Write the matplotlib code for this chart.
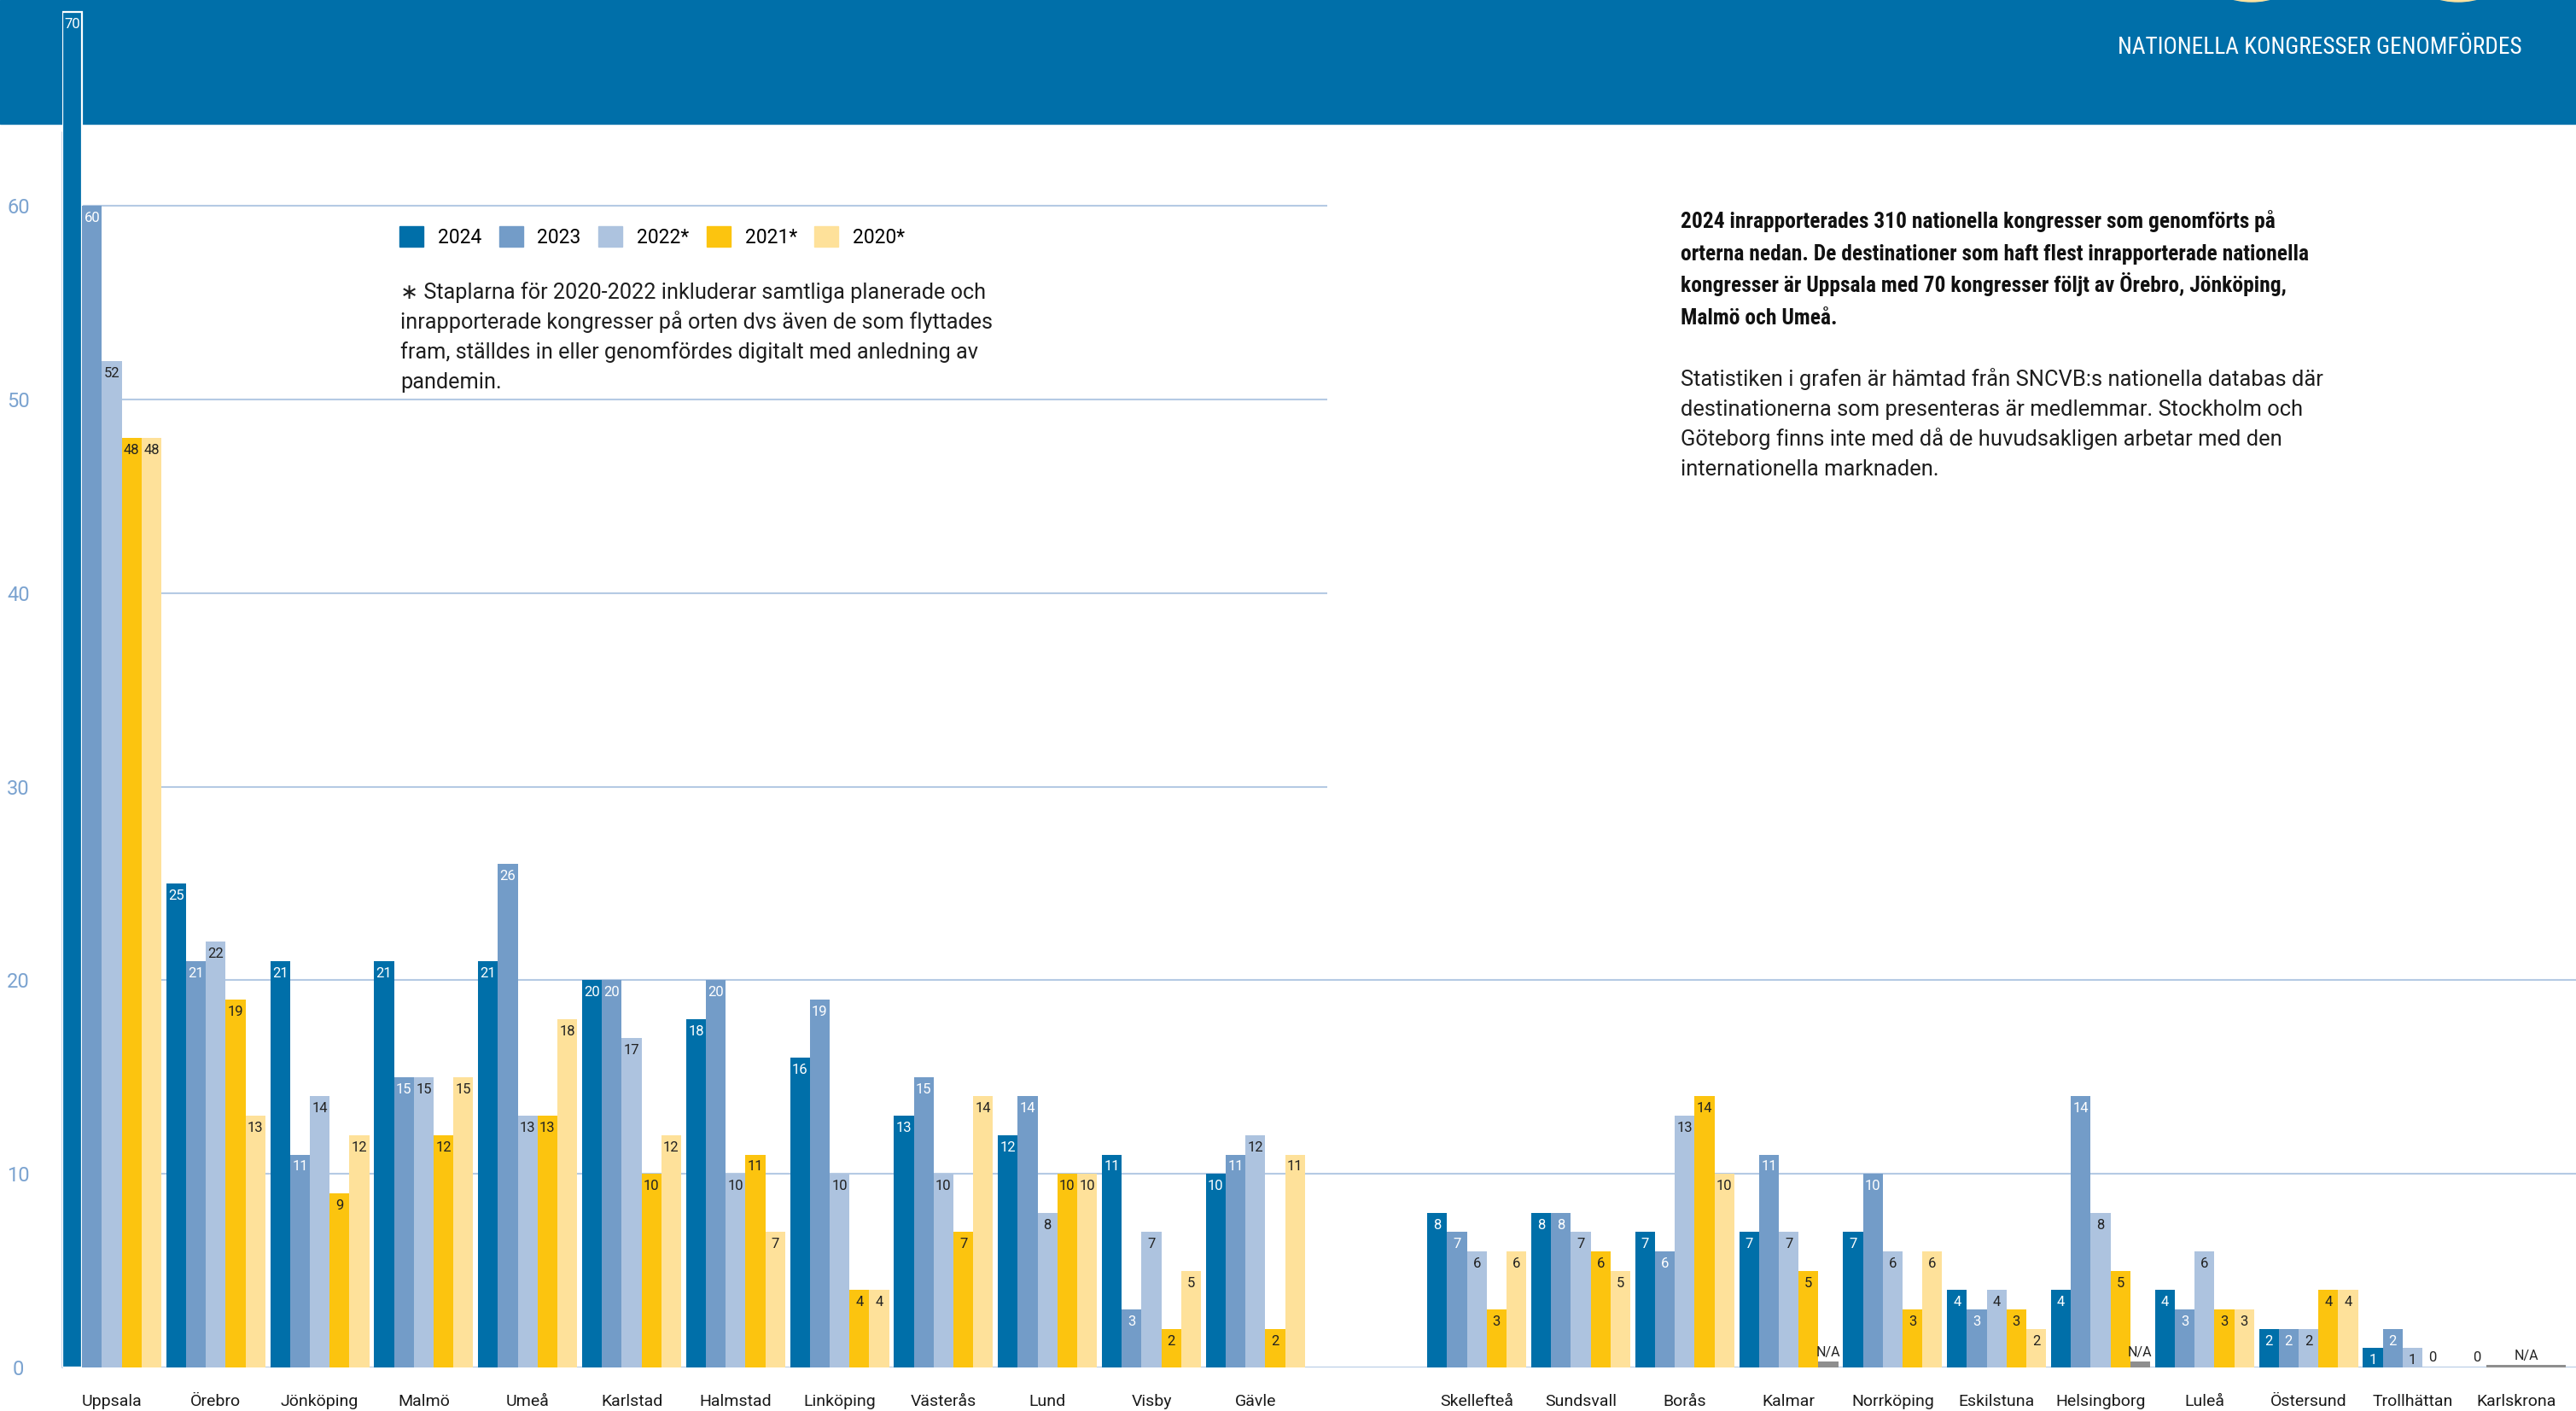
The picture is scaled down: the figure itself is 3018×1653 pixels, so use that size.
import numpy as np
import matplotlib.pyplot as plt
from matplotlib.patches import Rectangle, Ellipse, Patch

W, H = 3018, 1653
PX = 22.68      # pixlar per kongress
GRUPP = 121.8   # pixlar per ort

nan = np.nan

stader_vanster = ["Uppsala", "Örebro", "Jönköping", "Malmö", "Umeå", "Karlstad",
                  "Halmstad", "Linköping", "Västerås", "Lund", "Visby", "Gävle"]
stader_hoger = ["Skellefteå", "Sundsvall", "Borås", "Kalmar", "Norrköping", "Eskilstuna",
                "Helsingborg", "Luleå", "Östersund", "Trollhättan", "Karlskrona"]

ar = ["2024", "2023", "2022*", "2021*", "2020*"]

v2024 = [70, 25, 21, 21, 21, 20, 18, 16, 13, 12, 11, 10,
         8, 8, 7, 7, 7, 4, 4, 4, 2, 1, 0]
v2023 = [60, 21, 11, 15, 26, 20, 20, 19, 15, 14, 3, 11,
         7, 8, 6, 11, 10, 3, 14, 3, 2, 2, nan]
v2022 = [52, 22, 14, 15, 13, 17, 10, 10, 10, 8, 7, 12,
         6, 7, 13, 7, 6, 4, 8, 6, 2, 1, nan]
v2021 = [48, 19, 9, 12, 13, 10, 11, 4, 7, 10, 2, 2,
         3, 6, 14, 5, 3, 3, 5, 3, 4, 0, nan]
v2020 = [48, 13, 12, 15, 18, 12, 7, 4, 14, 10, 5, 11,
         6, 5, 10, nan, 6, 2, nan, 3, 4, nan, nan]

# orter som saknar uppgift (N/A): första år-index och antal staplar
na_stad = ["Kalmar", "Helsingborg", "Karlskrona"]
na_forsta = [4, 4, 1]
na_antal = [1, 1, 4]
na_hojd = [0.3, 0.3, 0.13]

farger = ["#006FA9", "#739CC8", "#ADC3DF", "#FCC40F", "#FEE19A"]
textfarg = ["white", "white", "#222222", "#222222", "#222222"]
rutnat = "#B5CAE4"
morkbla = "#006FA9"

rubrik = "NATIONELLA KONGRESSER GENOMFÖRDES"
not_rader = ["\u2217 Staplarna för 2020-2022 inkluderar samtliga planerade och",
             "inrapporterade kongresser på orten dvs även de som flyttades",
             "fram, ställdes in eller genomfördes digitalt med anledning av",
             "pandemin."]
fet_rader = ["2024 inrapporterades 310 nationella kongresser som genomförts på",
             "orterna nedan. De destinationer som haft flest inrapporterade nationella",
             "kongresser är Uppsala med 70 kongresser följt av Örebro, Jönköping,",
             "Malmö och Umeå."]
info_rader = ["Statistiken i grafen är hämtad från SNCVB:s nationella databas där",
              "destinationerna som presenteras är medlemmar. Stockholm och",
              "Göteborg finns inte med då de huvudsakligen arbetar med den",
              "internationella marknaden."]

plt.rcParams['font.family'] = ['Roboto', 'DejaVu Sans']
smal = ['Roboto Condensed', 'Liberation Sans Narrow', 'DejaVu Sans']

fig = plt.figure(figsize=(W / 100, H / 100), dpi=100)
renderer = fig.canvas.get_renderer()


def passa_bredd(texter, bredd):
    # skala teckenstorleken så att första raden får önskad bredd i pixlar
    b = texter[0].get_window_extent(renderer).width
    for t in texter:
        t.set_fontsize(t.get_fontsize() * bredd / b)


def stycke(rader, x, y0, dy, bredd, **kw):
    texter = [fig.text(x / W, 1 - (y0 + i * dy) / H, r, ha="left", va="baseline", **kw)
              for i, r in enumerate(rader)]
    passa_bredd(texter, bredd)


# blått sidhuvud + gula cirklar i kanten
fig.add_artist(Rectangle((0, 1 - 145 / H), 1, 145 / H, transform=fig.transFigure,
                         color=morkbla, zorder=-2))
for cx in [2638, 2880]:
    fig.add_artist(Ellipse((cx / W, 1 + 84 / H), 2 * 86 / W, 2 * 86 / H,
                           transform=fig.transFigure, color="#FDE3A0", zorder=-1))
rub = fig.text(2955 / W, 1 - 63 / H, rubrik, color="white", fontsize=22, family=smal,
               stretch="condensed", ha="right", va="baseline")
passa_bredd([rub], 473)

ax = fig.add_axes([73 / W, 51 / H, 1 - 73 / W, 1602 / H])
ax.patch.set_visible(False)
ax.set_ylim(0, 1602 / PX)
ax.set_xlim(0, (W - 73) / GRUPP)

stader = stader_vanster + stader_hoger
gx = np.r_[np.arange(len(stader_vanster)), 13.13 + np.arange(len(stader_hoger))]
bw = 23.2 / GRUPP

# rutnät
ax.hlines([30, 40, 50, 60], 0, 1482 / GRUPP, color=rutnat, lw=1.5, zorder=1)
ax.hlines([0, 10, 20], 0, ax.get_xlim()[1], color=rutnat, lw=1.5, zorder=1)

serier = [v2024, v2023, v2022, v2021, v2020]
for k, (vals, f, tf) in enumerate(zip(serier, farger, textfarg)):
    xs = gx + k * bw
    bars = ax.bar(xs, vals, width=bw, align="edge", color=f, linewidth=0, zorder=3)
    if k == 0:
        storst = int(np.nanargmax(vals))
        bars[storst].set_edgecolor("white")
        bars[storst].set_linewidth(1.6)
    for x, v in zip(xs, vals):
        if np.isnan(v):
            continue
        if v > 0:
            ax.annotate(f"{v:.0f}", (x + bw / 2, v), xytext=(0, -5), textcoords="offset points",
                        ha="center", va="top", fontsize=12, color=tf, zorder=4)
        else:
            ax.annotate("0", (x + bw / 2, 0), xytext=(0, 3), textcoords="offset points",
                        ha="center", va="bottom", fontsize=12, color="#222222", zorder=4)

for stad, forsta, antal, h in zip(na_stad, na_forsta, na_antal, na_hojd):
    i = stader.index(stad)
    x0 = gx[i] + forsta * bw
    ax.bar(x0, h, width=antal * bw, align="edge", color="#8E8E8E", linewidth=0, zorder=3)
    ax.annotate("N/A", (x0 + antal * bw / 2, h), xytext=(0, 2), textcoords="offset points",
                ha="center", va="bottom", fontsize=11.5, color="#222222", zorder=4)

for s in ["top", "right", "bottom"]:
    ax.spines[s].set_visible(False)
ax.spines["left"].set_color(rutnat)
ax.spines["left"].set_linewidth(1.2)
ax.spines["left"].set_bounds(0, (1602 - 155) / PX)

ax.set_yticks(range(0, 61, 10))
ax.tick_params(axis="y", length=0, pad=37, labelsize=17, labelcolor="#7BA3D0")
for t in ax.get_yticklabels():
    t.set_ha("center")

ax.set_xticks(gx + 2.5 * bw, stader)
ax.tick_params(axis="x", length=0, pad=22, labelsize=14, labelcolor="#1A1A1A")

handles = [Patch(color=f) for f in farger]
fig.legend(handles, ar, loc="upper left", bbox_to_anchor=(468 / W, 1 - 265 / H), ncol=5,
           frameon=False, fontsize=16.5, handlelength=1.22, handleheight=1.22,
           handletextpad=0.73, columnspacing=0.9, borderpad=0, borderaxespad=0)

stycke(not_rader, 469, 350, 35, 686, fontsize=18, color="#1E1E1E")
stycke(fet_rader, 1969, 267, 37.5, 697, fontsize=18, family=smal, stretch="condensed",
       weight="bold", color="#111111")
stycke(info_rader, 1969, 452, 35, 752, fontsize=18, color="#1E1E1E")

fig.savefig("out.png", dpi=100)
